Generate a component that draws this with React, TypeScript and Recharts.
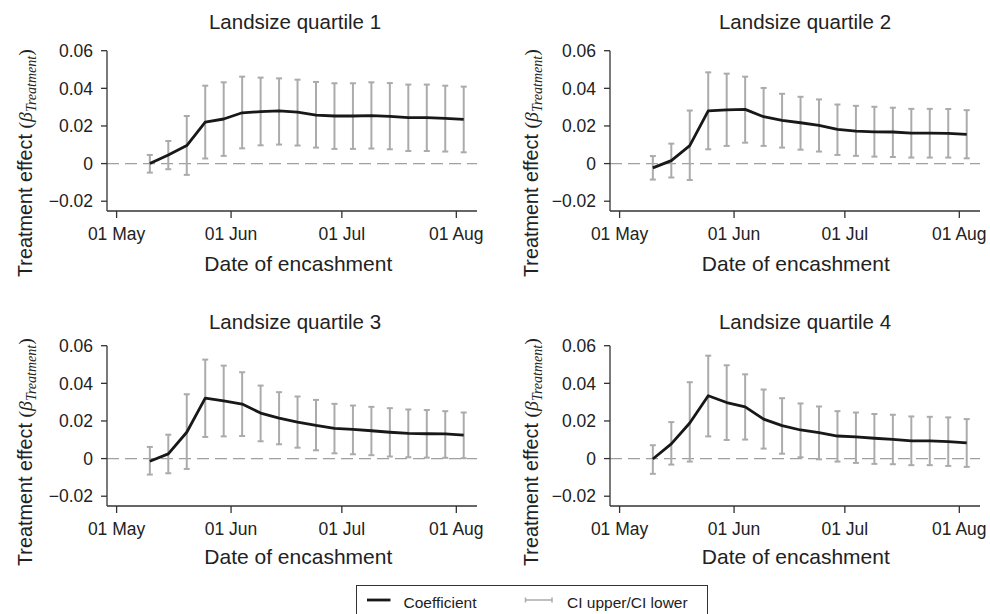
import React from "react";
import { LineChart, Line, XAxis, YAxis, ErrorBar, ReferenceLine } from "recharts";

const FONT = '"Liberation Sans", Arial, Helvetica, sans-serif';
const SERIF = '"Liberation Serif", "Times New Roman", serif';

// days since 01 May (encashment dates every 5 days from 10 May)
const days = [9, 14, 19, 24, 29, 34, 39, 44, 49, 54, 59, 64, 69, 74, 79, 84, 89, 94];

const monthTicks = [0, 31, 61, 92];
const monthLabels = ["01 May", "01 Jun", "01 Jul", "01 Aug"];
const yTicks = [-0.02, 0, 0.02, 0.04, 0.06];
const yTickLabels = ["\u22120.02", "0", "0.02", "0.04", "0.06"];

const titles = ["Landsize quartile 1", "Landsize quartile 2", "Landsize quartile 3", "Landsize quartile 4"];

const q1Coef = [0, 0.0046, 0.0096, 0.022, 0.0237, 0.027, 0.0276, 0.028, 0.0273, 0.0258, 0.0253, 0.0253, 0.0255, 0.0251, 0.0244, 0.0244, 0.024, 0.0235];
const q1Upper = [0.0046, 0.012, 0.0253, 0.0414, 0.0432, 0.0462, 0.0457, 0.0453, 0.0446, 0.0434, 0.0427, 0.0427, 0.0432, 0.0428, 0.042, 0.042, 0.0414, 0.0409];
const q1Lower = [-0.0048, -0.003, -0.006, 0.0027, 0.0041, 0.0081, 0.0097, 0.0101, 0.0096, 0.0085, 0.0078, 0.0078, 0.008, 0.0076, 0.0067, 0.0067, 0.0064, 0.006];

const q2Coef = [-0.0023, 0.0016, 0.0095, 0.028, 0.0286, 0.0288, 0.0249, 0.023, 0.0217, 0.0203, 0.0182, 0.0173, 0.0169, 0.0168, 0.0162, 0.0162, 0.0161, 0.0155];
const q2Upper = [0.004, 0.0106, 0.0282, 0.0485, 0.0478, 0.0462, 0.0402, 0.0371, 0.0355, 0.0341, 0.0314, 0.0307, 0.0302, 0.0297, 0.0291, 0.0291, 0.029, 0.0284];
const q2Lower = [-0.0085, -0.0074, -0.0087, 0.0076, 0.0094, 0.0111, 0.0094, 0.0085, 0.0074, 0.0064, 0.0046, 0.0041, 0.0037, 0.0035, 0.0032, 0.0032, 0.0032, 0.0028];

const q3Coef = [-0.0014, 0.0025, 0.014, 0.0321, 0.0307, 0.029, 0.0242, 0.0215, 0.0194, 0.0176, 0.0161, 0.0155, 0.0148, 0.014, 0.0134, 0.0132, 0.0131, 0.0125];
const q3Upper = [0.0062, 0.0127, 0.0342, 0.0526, 0.0494, 0.0459, 0.0388, 0.0353, 0.033, 0.0312, 0.0291, 0.0282, 0.0275, 0.0268, 0.0261, 0.0258, 0.0252, 0.0245];
const q3Lower = [-0.0085, -0.0078, -0.0055, 0.0115, 0.0118, 0.012, 0.0092, 0.0076, 0.0058, 0.0044, 0.0028, 0.0023, 0.0018, 0.0011, 0.0007, 0.0005, 0.0004, 0.0002];

const q4Coef = [-0.0002, 0.0078, 0.0189, 0.0334, 0.0298, 0.0275, 0.021, 0.0175, 0.0152, 0.0138, 0.012, 0.0115, 0.0108, 0.0102, 0.0094, 0.0094, 0.009, 0.0083];
const q4Upper = [0.0071, 0.0194, 0.0406, 0.0547, 0.0496, 0.0448, 0.0367, 0.0321, 0.0293, 0.0277, 0.0252, 0.0245, 0.0237, 0.0233, 0.0224, 0.0222, 0.0219, 0.021];
const q4Lower = [-0.0081, -0.0032, -0.0016, 0.0118, 0.0099, 0.0101, 0.0053, 0.0026, 0.0007, -0.0004, -0.0016, -0.0023, -0.0028, -0.003, -0.0035, -0.0035, -0.0039, -0.0044];

const AXIS = "#333";
const TEXT = "#222";

type PanelProps = {
  title: string;
  coef: number[];
  upper: number[];
  lower: number[];
  col: number;
  row: number;
};

function Panel({ title, coef, upper, lower, col, row }: PanelProps) {
  const data = days.map((d, i) => ({
    day: d,
    coef: coef[i],
    ci: [coef[i] - lower[i], upper[i] - coef[i]],
  }));

  const left = col === 0 ? 0 : 503;
  const top = row === 0 ? 0 : 295;
  const titleX = col === 0 ? 295 : 302;
  const titleY = row === 0 ? 29.3 : 34.3;
  const xLabelX = col === 0 ? 298.3 : 292.8;
  const xLabelY = row === 0 ? 270.5 : 269;
  const yLabelX = col === 0 ? 31.7 : 35.3;
  const yLabelY = row === 0 ? 277 : 271;

  return (
    <div style={{ position: "absolute", left, top, width: 487, height: 290 }}>
      <LineChart width={487} height={290} data={data} margin={{ top: 50.7, right: 10, left: 47, bottom: 49 }}>
        <XAxis
          dataKey="day"
          type="number"
          domain={[-2.6, 97.6]}
          allowDataOverflow
          ticks={monthTicks}
          interval={0}
          tickFormatter={(v: number) => monthLabels[monthTicks.indexOf(v)] ?? ""}
          height={30}
          tickSize={7}
          tickMargin={9.5}
          axisLine={{ stroke: AXIS, strokeWidth: 1.3 }}
          tickLine={{ stroke: AXIS, strokeWidth: 1.3 }}
          tick={{ fill: TEXT, fontSize: 17.5, fontFamily: FONT }}
        />
        <YAxis
          type="number"
          domain={[-0.0252, 0.06]}
          allowDataOverflow
          ticks={yTicks}
          interval={0}
          tickFormatter={(v: number) => {
            const i = yTicks.findIndex((t) => Math.abs(t - v) < 1e-9);
            return i >= 0 ? yTickLabels[i] : "";
          }}
          width={60}
          tickSize={6}
          tickMargin={8}
          axisLine={{ stroke: AXIS, strokeWidth: 1.3 }}
          tickLine={{ stroke: AXIS, strokeWidth: 1.3 }}
          tick={{ fill: TEXT, fontSize: 17.5, fontFamily: FONT }}
        />
        <ReferenceLine y={0} stroke="#a0a0a0" strokeDasharray="12 6" strokeWidth={1.3} />
        <Line
          dataKey="coef"
          stroke="none"
          dot={false}
          activeDot={false}
          legendType="none"
          isAnimationActive={false}
        >
          <ErrorBar dataKey="ci" direction="y" width={3} stroke="#ababab" strokeWidth={2} isAnimationActive={false} />
        </Line>
        <Line
          type="linear"
          dataKey="coef"
          stroke="#181818"
          strokeWidth={2.8}
          strokeLinejoin="round"
          dot={false}
          activeDot={false}
          isAnimationActive={false}
        />
      </LineChart>
      <svg
        width={487}
        height={290}
        style={{ position: "absolute", left: 0, top: 0, pointerEvents: "none", overflow: "visible" }}
      >
        <text x={titleX} y={titleY} textAnchor="middle" fontFamily={FONT} fontSize={20.5} fill={TEXT}>
          {title}
        </text>
        <text x={xLabelX} y={xLabelY} textAnchor="middle" fontFamily={FONT} fontSize={21} fill={TEXT}>
          Date of encashment
        </text>
        <text
          transform={`translate(${yLabelX}, ${yLabelY}) rotate(-90)`}
          fontFamily={FONT}
          fontSize={19.8}
          fill={TEXT}
        >
          {"Treatment effect "}
          <tspan fontFamily={SERIF}>(</tspan>
          <tspan fontFamily={SERIF} fontStyle="italic">β</tspan>
          <tspan fontFamily={SERIF} fontStyle="italic" fontSize={14} dy={4}>Treatment</tspan>
          <tspan fontFamily={SERIF} dy={-4}>)</tspan>
        </text>
      </svg>
    </div>
  );
}

function LegendBox() {
  return (
    <div
      style={{
        position: "absolute",
        left: 355.5,
        top: 585,
        width: 352,
        height: 40,
        border: `1px solid ${AXIS}`,
        boxSizing: "border-box",
        background: "#fff",
      }}
    >
      <svg width={352} height={40} style={{ position: "absolute", left: -1, top: -1 }}>
        <line x1={11} x2={34.5} y1={15} y2={15} stroke="#181818" strokeWidth={2.8} />
        <text x={47.5} y={23.3} fontFamily={FONT} fontSize={15.5} fill={TEXT}>
          Coefficient
        </text>
        <line x1={169.5} x2={196} y1={15} y2={15} stroke="#ababab" strokeWidth={1.5} />
        <line x1={169.5} x2={169.5} y1={12.5} y2={17.5} stroke="#ababab" strokeWidth={1.5} />
        <line x1={196} x2={196} y1={12.5} y2={17.5} stroke="#ababab" strokeWidth={1.5} />
        <text x={211} y={23.3} fontFamily={FONT} fontSize={15.5} fill={TEXT}>
          CI upper/CI lower
        </text>
      </svg>
    </div>
  );
}

export default function App() {
  return (
    <div
      style={{
        position: "absolute",
        left: 0,
        top: 0,
        width: 990,
        height: 614,
        overflow: "hidden",
        background: "#fff",
      }}
    >
      <Panel title={titles[0]} coef={q1Coef} upper={q1Upper} lower={q1Lower} col={0} row={0} />
      <Panel title={titles[1]} coef={q2Coef} upper={q2Upper} lower={q2Lower} col={1} row={0} />
      <Panel title={titles[2]} coef={q3Coef} upper={q3Upper} lower={q3Lower} col={0} row={1} />
      <Panel title={titles[3]} coef={q4Coef} upper={q4Upper} lower={q4Lower} col={1} row={1} />
      <LegendBox />
    </div>
  );
}
